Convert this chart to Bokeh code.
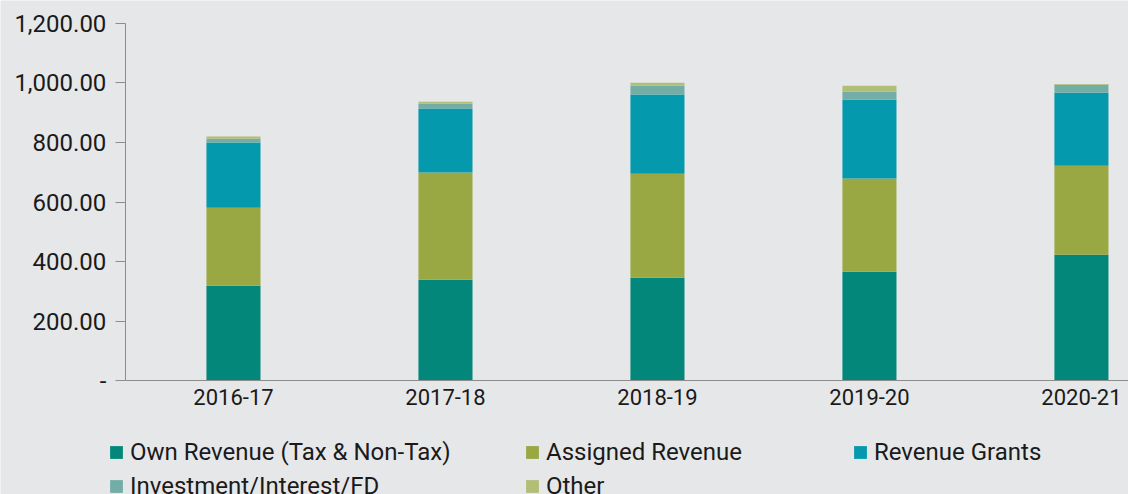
from bokeh.plotting import figure
from bokeh.models import (Range1d, FixedTicker, NumeralTickFormatter, Legend,
                          LegendItem, ColumnDataSource)
from bokeh.embed import file_html
from bokeh.resources import INLINE

years = ["2016-17", "2017-18", "2018-19", "2019-20", "2020-21"]
own_revenue = [319, 339, 346, 366, 423]
assigned_revenue = [262, 360, 349, 313, 299]
revenue_grants = [219, 215, 266, 265, 245]
investment_interest_fd = [13, 16, 30, 27, 27]
other = [7, 7, 10, 20, 3]
series_names = ["Own Revenue (Tax & Non-Tax)", "Assigned Revenue", "Revenue Grants",
                "Investment/Interest/FD", "Other"]
colors = ["#03877A", "#9AA843", "#0599AD", "#72AEA6", "#B2BE76"]
y_ticks = [0, 200, 400, 600, 800, 1000, 1200]

BG = "#E6E7E9"
FONT = "Roboto"
AXIS = "#8C8C8C"
X_START, X_AXIS_AT, X_END = -1.099, -0.51, 4.222

keys = ["own", "assigned", "grants", "invest", "other"]
xs = list(range(len(years)))
src = ColumnDataSource(dict(
    x=xs, own=own_revenue, assigned=assigned_revenue, grants=revenue_grants,
    invest=investment_interest_fd, other=other,
))

# frame covers the whole canvas; axes are drawn at fixed data locations
p = figure(width=1128, height=494,
           x_range=Range1d(X_START, X_END), y_range=Range1d(-382, 1277),
           output_backend="svg", toolbar_location=None,
           min_border_left=0, min_border_right=0,
           min_border_top=0, min_border_bottom=0)
p.background_fill_color = BG
p.border_fill_color = BG
p.outline_line_color = None
p.xgrid.visible = False
p.ygrid.visible = False

renderers = p.vbar_stack(keys, x="x", width=0.255, color=colors, source=src,
                         line_color=None)

# y axis
yax = p.yaxis[0]
yax.fixed_location = X_AXIS_AT
yax.bounds = (y_ticks[0], y_ticks[-1])
yax.ticker = FixedTicker(ticks=y_ticks)
yax.formatter = NumeralTickFormatter(format="0,0.00")
yax.major_label_overrides = {0: "-"}
yax.minor_tick_line_color = None
yax.major_tick_in = 0
yax.major_tick_out = 10
yax.axis_line_color = AXIS
yax.major_tick_line_color = AXIS
yax.major_label_text_font = FONT
yax.major_label_text_font_size = "24px"
yax.major_label_text_color = "#1A1A1A"
yax.major_label_standoff = 9

# x axis
xax = p.xaxis[0]
xax.fixed_location = 0
xax.bounds = (X_AXIS_AT, X_END)
xax.ticker = FixedTicker(ticks=xs)
xax.major_label_overrides = {i: y for i, y in enumerate(years)}
xax.minor_tick_line_color = None
xax.major_tick_in = 0
xax.major_tick_out = 0
xax.axis_line_color = AXIS
xax.major_label_text_font = FONT
xax.major_label_text_font_size = "22px"
xax.major_label_text_color = "#1A1A1A"
xax.major_label_standoff = 8


def make_legend(idx, loc):
    lg = Legend(items=[LegendItem(label=series_names[i], renderers=[renderers[i]]) for i in idx],
                location=loc, orientation="vertical",
                background_fill_alpha=0, border_line_color=None,
                padding=0, margin=0, spacing=6,
                glyph_width=16, glyph_height=16, label_standoff=6,
                label_text_font=FONT, label_text_font_size="24px",
                label_text_color="#1A1A1A", label_height=28)
    p.add_layout(lg, "center")


make_legend([0, 3], (108, -6))
make_legend([1, 4], (524, -6))
make_legend([2], (852, 28))

open("out.html", "w").write(file_html(p, INLINE))
